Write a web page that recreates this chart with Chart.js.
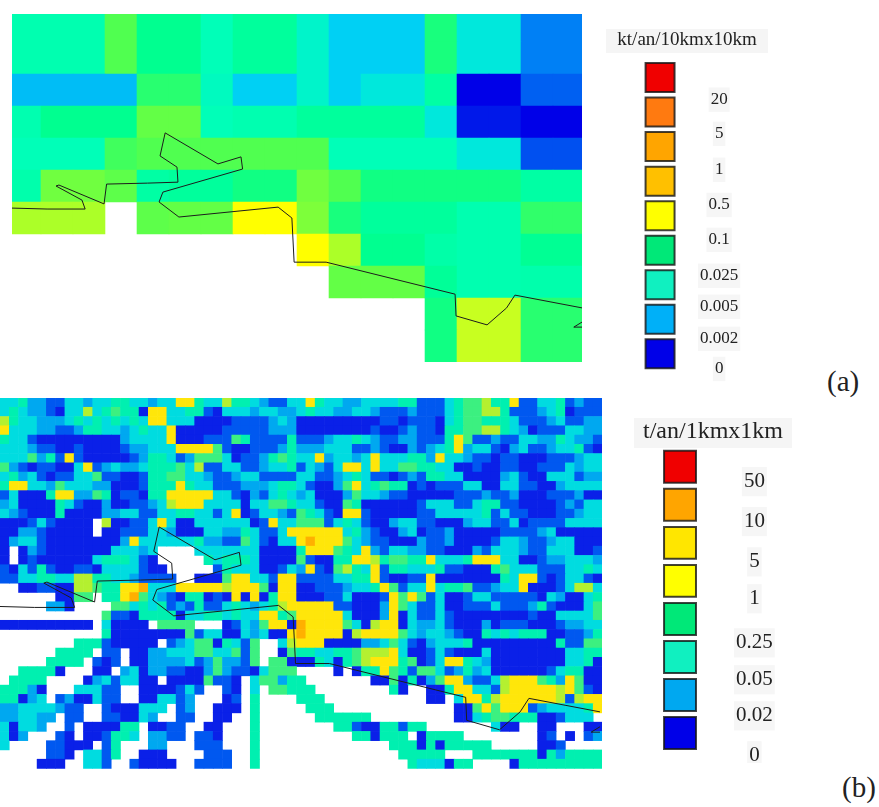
<!DOCTYPE html>
<html lang="fr">
<head>
<meta charset="utf-8">
<title>Emissions</title>
<script src="https://cdn.jsdelivr.net/npm/chart.js@4"></script>
<style>
  body { margin: 0; background: #fff; width: 879px; height: 807px; position: relative; overflow: hidden; }
  canvas { position: absolute; }
  #mapA, #mapB { filter: blur(0.5px); }
  .panel { position: absolute; font-family: "Liberation Serif", serif; font-size: 29px; color: #222; }
  .back { position: absolute; background: #f5f5f5; }
</style>
</head>
<body>
<div class="back" style="left:606px;top:29px;width:162px;height:24px"></div>
<div class="back" style="left:634px;top:418px;width:158px;height:30px"></div>
<canvas id="mapA" width="570" height="348" style="left:12px;top:14px"></canvas>
<canvas id="legendA" width="174" height="356" style="left:600px;top:29px"></canvas>
<span class="panel" style="left:827px;top:365px">(a)</span>
<canvas id="mapB" width="602" height="372" style="left:0;top:398px"></canvas>
<canvas id="legendB" width="146" height="346" style="left:640px;top:417px"></canvas>
<span class="panel" style="left:842px;top:771px">(b)</span>
<script>
// Valeurs de la carte (a), une ligne par rangée de mailles de 10 km, null = pas de donnée
const valuesA = [
    [5.2, 5.2, 5.2, 7, 6, 6, 5, 5.7, 5.7, 4.5, 3, 3, 3, 6.3, 4, 4, 1.6, 1.6],
    [5.2, 5.2, 5.2, 7, 6, 6, 5, 5.7, 5.7, 4.5, 3, 3, 3, 6.3, 4, 4, 1.6, 1.6],
    [2.6, 2.6, 2.6, 2.6, 6.5, 6.5, 4.8, 3, 3, 4.5, 3, 4, 4, 5.5, 0, 0, 1.2, 1.2],
    [5.2, 6, 6, 6, 7.3, 7.3, 5, 5.2, 5.2, 5.7, 5.7, 5.7, 5.7, 4, 0.3, 0.3, 0, 0],
    [5, 5, 5, 6.8, 7, 7, 7, 7, 7, 7, 5, 5, 5, 5, 4, 4, 1, 1],
    [5.3, 7.5, 7.5, 7.2, 5.5, 5.7, 5.7, 6.2, 6.2, 7.5, 7, 6.2, 6.2, 6.2, 6.2, 6.2, 5.5, 5.5],
    [8.5, 8.5, 8.5, null, 7.2, 7.3, 7.3, 10, 10, 7.7, 6.3, 5.7, 5.7, 5.7, 5.2, 5.2, 6.6, 6.6],
    [null, null, null, null, null, null, null, null, null, 10, 8.5, 6, 6, 5.4, 5.2, 5.2, 5.9, 5.9],
    [null, null, null, null, null, null, null, null, null, null, 7.3, 7.3, 7.3, 5.8, 5.2, 5.2, 5.3, 5.3],
    [null, null, null, null, null, null, null, null, null, null, null, null, null, 6.2, 9, 9, 6.5, 6.5],
    [null, null, null, null, null, null, null, null, null, null, null, null, null, 6.2, 9, 9, 6.5, 6.5]
];

// Classes de la carte (b), un caractère par maille, '.' = pas de donnée
const rowsB = [
    "33422113 32334433 23377433 64432113 37433223 33344111 34556447 113341211",
    "34322103 36345440 77334410 33323322 34332233 21112111 34556641 112340111",
    "64332223 43434343 77333000 01111232 00000000 01101110 34554443 111231122",
    "73332211 24433234 33700000 11111222 00000000 10012110 44556643 201113322",
    "43310000 00000233 33700011 15411114 11123343 21122111 47511211 332243221",
    "33321100 10000122 33377775 10011124 22233311 21002123 47233102 311233410",
    "33352417 10000012 44312555 30112454 33723323 73334427 33211011 000111233",
    "52101100 37123223 44453611 33112334 13213773 73355443 30010011 001113233",
    "34231011 33511001 44553321 12331111 33112343 11012144 33000023 100333122",
    "47733253 33220001 44474331 11222344 31002573 45440101 11330033 110023333",
    "13000477 22540110 44777773 31021343 23000253 32110000 01112112 000111200",
    "23000043 10020011 23677733 33033554 33100540 00000133 31134411 000012133",
    "32100040 00022331 13344331 37013321 54310771 00000113 33334131 100011233",
    "00013100 00.60011 37300333 33301733 55513431 00233110 00233113 011113333",
    "00221000 00.00111 33200033 22431137 77777342 10023011 20000011 112300000",
    "02331000 00000273 33333422 11531033 78777532 11000211 20000133 211233000",
    "0.021000 00003332 3....333 33330000 47775437 21332211 00021333 211333001",
    "0.010000 00344431 0.....43 44430000 51004477 64554473 33477733 001223332",
    "10314100 11033331 00.....1 43330013 27105643 71443334 11000453 331113343",
    "11334433 66443321 111..000 57733177 11113344 71001170 00000043 771013310",
    "..001100 66544778 33377777 67775077 00111233 47513373 44511233 700013663",
    "......00 55.44785 32104401 07070477 00011300 01757513 00133111 110320034",
    ".....220 ....5534 34121411 34323467 77771100 02753113 00111311 124100035",
    "........ ...51104 44403344 34337745 77777300 02703113 10000000 010033335",
    "00000000 00.30000 .5555... 01325770 87777530 67703223 10002011 100012233",
    "........ ...40000 00005133 00323007 87777067 77753233 21004343 444001124",
    "........ 44410000 0.123550 4315..36 77700002 23531023 33400000 000041155",
    "......44 44.11.00 22333553 3515..05 44334456 66730013 10003000 000003344",
    ".....444 4.101.00 22223125 2215.550 00430456 77745013 77432000 000003340",
    "..44440. ..00.230 22110025 21103555 ....0.04 47541553 12423000 000134400",
    ".4444... .0231330 0.000051 10.35524 4....... 00504025 77211367 775427500",
    "44420... 33311..0 000131.. 10.3.554 44...... ..40..00 47733167 777767510",
    "44023.12 00311..0 03312... 01.4.... 444..... ......00 .3774677 777761677",
    "22333321 1..10003 33.12..0 00.4.... .444.... ........ .0057577 712333347",
    "223322.1 1..11003 2..11..0 0..4.... ..444444 ........ .0034554 44001333.",
    "30332..1 .000044. 0011..00 ...4.... ....4410 044144.. .....300 ..00...00",
    "302...10 .001443. 2211.110 ...4.... ......44 0444.044 44...... ..01.0.12",
    "3....110 00.14... 22...111 ...4.... ........ ..444040 44444... ..001....",
    ".....110 .3314..0 00....11 1..4.... ........ ...44444 ...44444 440424444",
    "....000. .331..10 000..111 1..4.... ........ ....4333 044....0 444444444"
];

// Trait de côte, en km depuis le coin de la grille (a)
const coastX = [0.9, 11.9, 23.8, 22.8, 14.7, 15.6, 29.7, 30.5, 43.3, 52.8, 52.5, 47.2, 48.8, 65.3, 72.5, 73, 48.1, 46.9, 53.1, 84.1, 88.4, 89.1, 99.1, 139.4, 139.7, 149.4, 155.5, 158.1, 179.1];
const coastY = [61.9, 62.2, 62.2, 59.4, 55, 54.7, 60.6, 54.4, 54.1, 53.8, 49.1, 45.6, 38.4, 48.1, 45.9, 49.7, 56.9, 60, 64.7, 61.6, 65, 78.8, 78.8, 88.8, 95.6, 98.4, 93.1, 89.1, 93.1];
const isletX = [179.1, 176.5, 179.1];
const isletY = [97.5, 99.1, 99.1];

const titleA = 'kt/an/10kmx10km';
const labelsA = ['20', '5', '1', '0.5', '0.1', '0.025', '0.005', '0.002', '0'];
const labelPosA = [1.14, 2.13, 3.17, 4.19, 5.2, 6.24, 7.14, 8.07, 8.94];
const swatchesA = ['#f00000', '#ff7a10', '#ffa500', '#ffc000', '#ffff00', '#00e878', '#10f0c0', '#00b0f8', '#0000e8'];

const titleB = 't/an/1kmx1km';
const labelsB = ['50', '10', '5', '1', '0.25', '0.05', '0.02', '0'];
const labelPosB = [0.89, 1.94, 3, 3.97, 5.13, 6.1, 7.05, 8.1];
const swatchesB = ['#f00000', '#ffa500', '#ffe600', '#ffff00', '#00e878', '#10f0c0', '#00a8f0', '#0000e8'];

const rampA = ['#0000e8', '#0050f0', '#00a0f8', '#00d0f4', '#00e8dc', '#00ffb8', '#00ff90', '#50ff50', '#90ff30', '#c8ff20', '#ffff00'];
const classesB = ['#0a20e8', '#0058f0', '#00a8f0', '#00dce0', '#00f0b0', '#3cf080', '#b4f030', '#ffe60a', '#ffb000'];

function hexToRgb(hex) {
    return [1, 3, 5].map(i => parseInt(hex.slice(i, i + 2), 16));
}

function rampColor(v) {
    const i = Math.min(Math.floor(v), rampA.length - 2);
    const t = v - i;
    const a = hexToRgb(rampA[i]);
    const b = hexToRgb(rampA[i + 1]);
    return `rgb(${a.map((c, k) => Math.round(c + (b[k] - c) * t)).join(',')})`;
}

function toPoints(xs, ys) {
    return xs.map((x, i) => ({ x: x, y: ys[i] }));
}

function lineDataset(points) {
    return {
        data: points,
        showLine: true,
        borderColor: '#1c1c1c',
        borderWidth: 1,
        pointRadius: 0,
        tension: 0,
        clip: 0
    };
}

function drawMap(id, cells, colors, cellKm, xRange, yRange) {
    new Chart(document.getElementById(id), {
        type: 'scatter',
        data: {
            datasets: [
                lineDataset(toPoints(coastX, coastY)),
                lineDataset(toPoints(isletX, isletY)),
                {
                    data: cells,
                    pointStyle: 'rect',
                    pointBackgroundColor: colors,
                    pointBorderWidth: 0,
                    pointRadius: ctx => {
                        const s = ctx.chart.scales.x;
                        return (s.getPixelForValue(cellKm) - s.getPixelForValue(0) + 0.6) / Math.SQRT2;
                    },
                    clip: 0
                }
            ]
        },
        options: {
            responsive: false,
            animation: false,
            events: [],
            layout: { padding: 0 },
            scales: {
                x: { type: 'linear', display: false, min: xRange[0], max: xRange[1] },
                y: { type: 'linear', display: false, reverse: true, min: yRange[0], max: yRange[1] }
            },
            plugins: { legend: { display: false }, tooltip: { enabled: false }, title: { display: false } }
        }
    });
}

function drawLegend(id, title, swatches, labels, labelPos, opt) {
    new Chart(document.getElementById(id), {
        type: 'scatter',
        data: {
            datasets: [{
                data: swatches.map((_, i) => ({ x: opt.swatchAt, y: i + 0.5 })),
                pointStyle: 'rect',
                pointBackgroundColor: swatches,
                pointBorderColor: 'rgba(20,20,20,0.8)',
                pointBorderWidth: 2,
                pointRadius: ctx => {
                    const s = ctx.chart.scales.y;
                    return (s.getPixelForValue(1) - s.getPixelForValue(0)) * opt.fill / Math.SQRT2;
                },
                clip: false
            }]
        },
        options: {
            responsive: false,
            animation: false,
            events: [],
            layout: { padding: { left: 0, right: 0, top: 0, bottom: opt.bottom } },
            scales: {
                x: { type: 'linear', display: false, min: 0, max: 1 },
                y: {
                    type: 'linear',
                    position: 'right',
                    reverse: true,
                    min: 0,
                    max: swatches.length,
                    grid: { display: false },
                    border: { display: false },
                    afterFit: axis => { axis.width = opt.axisWidth; axis.paddingTop = 0; axis.paddingBottom = 0; },
                    afterBuildTicks: axis => { axis.ticks = labelPos.map(v => ({ value: v })); },
                    ticks: {
                        autoSkip: false,
                        padding: opt.labelPad,
                        crossAlign: 'center',
                        color: '#222',
                        showLabelBackdrop: true,
                        backdropColor: '#f6f6f6',
                        backdropPadding: 2,
                        font: { family: '"Liberation Serif", serif', size: opt.labelSize },
                        callback: (v, i) => labels[i]
                    }
                }
            },
            plugins: {
                legend: { display: false },
                tooltip: { enabled: false },
                title: {
                    display: true,
                    text: title,
                    color: '#222',
                    padding: { top: 0, bottom: opt.titleGap },
                    font: { family: '"Liberation Serif", serif', size: opt.titleSize, weight: 'normal' }
                }
            }
        }
    });
}

const cellsA = [];
const colorsA = [];
valuesA.forEach((row, r) => row.forEach((v, c) => {
    if (v === null) return;
    cellsA.push({ x: (c + 0.5) * 10, y: (r + 0.5) * 10 });
    colorsA.push(rampColor(v));
}));
drawMap('mapA', cellsA, colorsA, 10, [0.94, 179.06], [1.25, 110]);

const cellB = 2.74;
const cellsB = [];
const colorsB = [];
rowsB.forEach((row, r) => row.replace(/ /g, '').split('').forEach((ch, c) => {
    if (ch === '.') return;
    cellsB.push({ x: 1.74 + (c + 0.5) * cellB, y: 0.24 + (r + 0.5) * cellB });
    colorsB.push(classesB[Number(ch)]);
}));
drawMap('mapB', cellsB, colorsB, cellB, [1.74, 179.7], [0.24, 110.3]);

drawLegend('legendA', titleA, swatchesA, labelsA, labelPosA, {
    swatchAt: 0.78, bottom: 14, axisWidth: 97, labelPad: 15, labelSize: 17, titleSize: 19, titleGap: 8.5, fill: 0.84
});
drawLegend('legendB', titleB, swatchesB, labelsB, labelPosB, {
    swatchAt: 0.69, bottom: 11, axisWidth: 88, labelPad: 30, labelSize: 21, titleSize: 24, titleGap: 2, fill: 0.84
});
</script>
</body>
</html>
